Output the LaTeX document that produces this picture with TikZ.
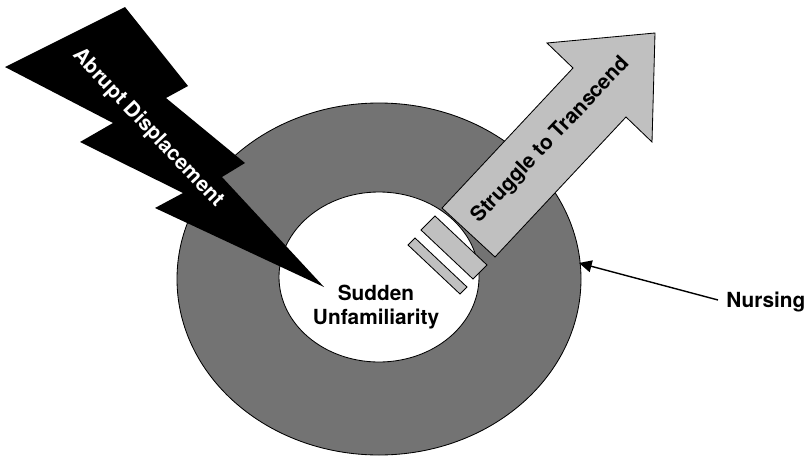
\documentclass[tikz,border=0pt]{standalone}
\usepackage{fontspec}
\setmainfont{TeX Gyre Heros}
\usepackage{xcolor}
\usepackage{tikz}
\usetikzlibrary{arrows.meta}
\definecolor{RingGray}{RGB}{115, 115, 115}
\definecolor{ArrowGray}{RGB}{192, 192, 192}

\begin{document}
\begin{tikzpicture}[x=0.025cm, y=-0.025cm, line width=0.6pt,
    label/.style={font=\fontsize{14.8}{16.5}\selectfont\bfseries, align=center, inner sep=0pt}]
    \useasboundingbox (0,0) rectangle (808,467);

    % Nursing ring
    \fill[RingGray, draw=black] (379,279) ellipse [x radius=202, y radius=176];
    \fill[white, draw=black] (379,277) ellipse [x radius=100, y radius=85];
    \node[label] (centertext) at (376,307) {Sudden\\Unfamiliarity};

    % Lightning bolt
    \fill[black] (125,7) -- (188,86) -- (166,98) -- (245,163) -- (222,177)
        -- (324,287) -- (155,208) -- (183,193) -- (80,142) -- (113,123)
        -- (5,67) -- cycle;
    \node[label, text=white, rotate=-46.5] (bolttext) at (148,128) {Abrupt Displacement};

    % Struggle arrow
    \draw[fill=ArrowGray] (442,208) -- (573,68) -- (547,43) -- (655,33)
        -- (652,142) -- (626,117) -- (495,257) -- cycle;
    \node[label, rotate=46.5] (arrowtext) at (551,140) {Struggle to Transcend};
    \draw[fill=ArrowGray] (435,216) -- (421,230) -- (473,279) -- (487,265) -- cycle;
    \draw[fill=ArrowGray] (415,238) -- (408,245) -- (460,294) -- (467,287) -- cycle;

    % Nursing pointer
    \node[label, anchor=west] (nursing) at (726,302) {Nursing};
    \coordinate (ringpt) at (579,263);
    \draw[line width=1pt, -{Triangle[length=9pt, width=8.5pt]}] (nursing.west) ++(-8,-2) -- (ringpt);
\end{tikzpicture}
\end{document}
